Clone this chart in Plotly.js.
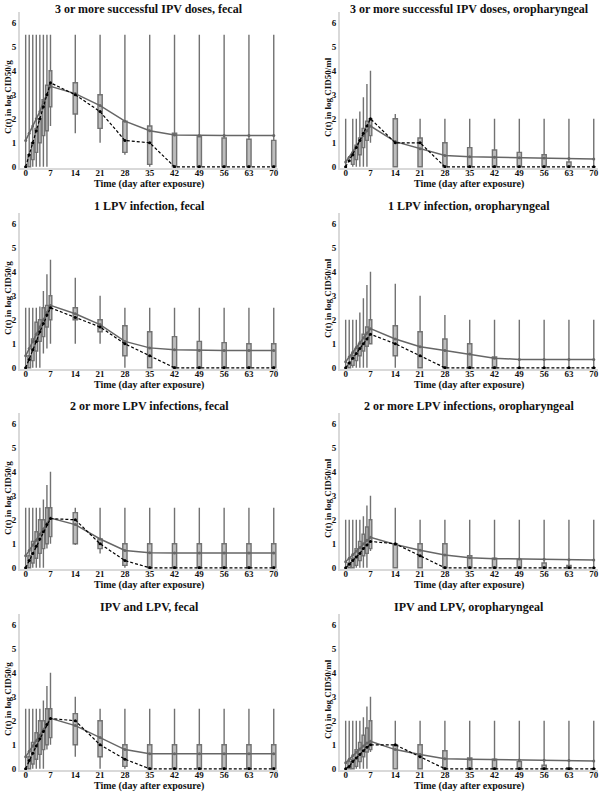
<!DOCTYPE html>
<html>
<head>
<meta charset="utf-8">
<script src="https://cdn.plot.ly/plotly-3.0.1.min.js"></script>
<style>
  body { margin: 0; background: #fff; }
  #chart { width: 601px; height: 795px; }
</style>
</head>
<body>
<div id="chart"></div>
<script>
// days after exposure (one box per day)
var days = [0, 1, 2, 3, 4, 5, 6, 7, 14, 21, 28, 35, 42, 49, 56, 63, 70];
var dayTicks = [0, 7, 14, 21, 28, 35, 42, 49, 56, 63, 70];

// 3 or more successful IPV doses, fecal
var ipvFecalMean   = [1.1, 1.4, 1.7, 2.0, 2.3, 2.7, 3.0, 3.35, 3.05, 2.55, 1.9, 1.5, 1.33, 1.3, 1.3, 1.3, 1.3];
var ipvFecalMedian = [0, 0.5, 1.0, 1.5, 2.0, 2.5, 3.0, 3.5, 3.0, 2.3, 1.1, 1.0, 0, 0, 0, 0, 0];
var ipvFecalQ1     = [0, 0, 0.3, 0.6, 1.0, 1.3, 1.5, 2.5, 2.2, 1.6, 0.6, 0.1, 0, 0, 0, 0, 0];
var ipvFecalQ3     = [0, 0.5, 1.0, 1.6, 2.0, 2.8, 3.4, 4.0, 3.5, 3.0, 1.9, 1.7, 1.4, 1.25, 1.2, 1.15, 1.1];
var ipvFecalLow    = [0, 0, 0, 0, 0, 0, 0, 1.7, 1.4, 1.0, 0.5, 0, 0, 0, 0, 0, 0];
var ipvFecalHigh   = [5.5, 5.5, 5.5, 5.5, 5.5, 5.5, 5.5, 5.5, 5.5, 5.5, 5.5, 5.5, 5.5, 5.5, 5.5, 5.5, 5.5];

// 3 or more successful IPV doses, oropharyngeal
var ipvOroMean   = [0.2, 0.4, 0.6, 0.85, 1.1, 1.3, 1.5, 1.7, 1.05, 0.75, 0.47, 0.42, 0.4, 0.38, 0.37, 0.35, 0.33];
var ipvOroMedian = [0, 0.25, 0.5, 0.8, 1.1, 1.4, 1.7, 2.0, 1.0, 1.0, 0, 0, 0, 0, 0, 0, 0];
var ipvOroQ1     = [0, 0, 0.1, 0.3, 0.5, 0.8, 1.1, 1.3, 0, 0, 0, 0, 0, 0, 0, 0, 0];
var ipvOroQ3     = [0, 0.2, 0.5, 0.9, 1.2, 1.6, 1.9, 2.0, 2.0, 1.2, 1.0, 0.8, 0.7, 0.6, 0.5, 0.2, 0];
var ipvOroLow    = [0, 0, 0, 0, 0, 0, 0, 1.0, 0, 0, 0, 0, 0, 0, 0, 0, 0];
var ipvOroHigh   = [2, 2, 2, 2, 2.3, 2.9, 3.45, 4.0, 2.2, 2, 2, 2, 2, 2, 2, 2, 2];

// 1 LPV infection, fecal
var lpv1FecalMean   = [0.5, 0.8, 1.1, 1.4, 1.7, 2.0, 2.3, 2.6, 2.25, 1.8, 1.1, 0.83, 0.75, 0.72, 0.72, 0.72, 0.72];
var lpv1FecalMedian = [0, 0.35, 0.75, 1.1, 1.5, 1.85, 2.2, 2.5, 2.1, 1.7, 1.0, 0.5, 0, 0, 0, 0, 0];
var lpv1FecalQ1     = [0, 0, 0.3, 0.7, 1.1, 1.3, 1.7, 2.0, 2.0, 1.5, 0.5, 0, 0, 0, 0, 0, 0];
var lpv1FecalQ3     = [0, 0.5, 1.2, 1.9, 2.0, 2.5, 2.6, 3.0, 2.5, 2.0, 1.75, 1.5, 1.3, 1.1, 1.05, 1.0, 1.0];
var lpv1FecalLow    = [0, 0, 0, 0, 0, 0.6, 0.8, 1.0, 1.0, 1.0, 0, 0, 0, 0, 0, 0, 0];
var lpv1FecalHigh   = [2.5, 2.5, 2.5, 2.5, 2.55, 3.2, 3.9, 4.5, 3.75, 3.0, 2.5, 2.5, 2.5, 2.5, 2.5, 2.5, 2.5];

// 1 LPV infection, oropharyngeal
var lpv1OroMean   = [0.25, 0.45, 0.65, 0.85, 1.05, 1.25, 1.45, 1.63, 1.2, 0.88, 0.72, 0.57, 0.4, 0.35, 0.35, 0.35, 0.35];
var lpv1OroMedian = [0, 0.2, 0.4, 0.6, 0.8, 1.0, 1.2, 1.4, 1.0, 0.5, 0, 0, 0, 0, 0, 0, 0];
var lpv1OroQ1     = [0, 0, 0.1, 0.3, 0.5, 0.7, 0.9, 1.0, 0.5, 0, 0, 0, 0, 0, 0, 0, 0];
var lpv1OroQ3     = [0, 0.2, 0.5, 0.8, 1.0, 1.4, 1.7, 2.0, 1.75, 1.5, 1.2, 1.0, 0.45, 0, 0, 0, 0];
var lpv1OroLow    = [0, 0, 0, 0, 0, 0, 0, 1.0, 0, 0, 0, 0, 0, 0, 0, 0, 0];
var lpv1OroHigh   = [2, 2, 2, 2, 2.3, 2.9, 3.45, 4.0, 3.5, 3.0, 2.2, 2, 2, 2, 2, 2, 2];

// 2 or more LPV infections, fecal
var lpv2FecalMean   = [0.5, 0.72, 0.95, 1.15, 1.4, 1.62, 1.85, 2.07, 1.8, 1.2, 0.72, 0.63, 0.62, 0.62, 0.62, 0.62, 0.62];
var lpv2FecalMedian = [0, 0.3, 0.6, 0.9, 1.2, 1.5, 1.8, 2.05, 2.0, 1.0, 0.3, 0, 0, 0, 0, 0, 0];
var lpv2FecalQ1     = [0, 0, 0.2, 0.4, 0.6, 0.8, 1.0, 1.3, 1.0, 0.8, 0.1, 0, 0, 0, 0, 0, 0];
var lpv2FecalQ3     = [0, 0.5, 1.1, 1.5, 2.0, 2.0, 2.5, 2.5, 2.3, 1.2, 1.0, 1.0, 1.0, 1.0, 1.0, 1.0, 1.0];
var lpv2FecalLow    = [0, 0, 0, 0, 0, 0, 0.8, 1.0, 0.95, 0.6, 0, 0, 0, 0, 0, 0, 0];
var lpv2FecalHigh   = [2.5, 2.5, 2.5, 2.5, 2.5, 2.85, 3.45, 4.0, 2.5, 2.5, 2.5, 2.5, 2.5, 2.5, 2.5, 2.5, 2.5];

// 2 or more LPV infections, oropharyngeal
var lpv2OroMean   = [0.25, 0.4, 0.55, 0.7, 0.85, 1.0, 1.15, 1.27, 0.97, 0.73, 0.53, 0.42, 0.38, 0.37, 0.36, 0.34, 0.33];
var lpv2OroMedian = [0, 0.15, 0.3, 0.45, 0.6, 0.8, 0.95, 1.1, 1.0, 0.5, 0, 0, 0, 0, 0, 0, 0];
var lpv2OroQ1     = [0, 0, 0, 0.1, 0.3, 0.5, 0.6, 0.8, 0, 0, 0, 0, 0, 0, 0, 0, 0];
var lpv2OroQ3     = [0, 0.2, 0.4, 0.8, 1.1, 1.4, 1.7, 2.0, 1.0, 1.0, 1.0, 0.5, 0.4, 0.35, 0.2, 0.1, 0];
var lpv2OroLow    = [0, 0, 0, 0, 0, 0, 0, 0.7, 0, 0, 0, 0, 0, 0, 0, 0, 0];
var lpv2OroHigh   = [2, 2, 2, 2, 2, 2.15, 2.6, 3.0, 2.5, 2, 2, 2, 2, 2, 2, 2, 2];

// IPV and LPV, fecal
var bothFecalMean   = [0.5, 0.73, 0.95, 1.17, 1.4, 1.62, 1.85, 2.1, 1.8, 1.3, 0.8, 0.63, 0.63, 0.63, 0.63, 0.63, 0.63];
var bothFecalMedian = [0, 0.35, 0.65, 0.95, 1.25, 1.55, 1.85, 2.1, 2.0, 1.0, 0.4, 0, 0, 0, 0, 0, 0];
var bothFecalQ1     = [0, 0, 0.2, 0.4, 0.6, 0.8, 1.0, 1.3, 1.0, 0.5, 0.1, 0, 0, 0, 0, 0, 0];
var bothFecalQ3     = [0, 0.5, 1.1, 1.5, 2.0, 2.0, 2.5, 2.5, 2.3, 2.0, 1.0, 1.0, 1.0, 1.0, 1.0, 1.0, 1.0];
var bothFecalLow    = [0, 0, 0, 0, 0, 0, 0.8, 1.0, 0.5, 0, 0, 0, 0, 0, 0, 0, 0];
var bothFecalHigh   = [2.5, 2.5, 2.5, 2.5, 2.5, 2.85, 3.45, 4.0, 3.0, 2.5, 2.5, 2.5, 2.5, 2.5, 2.5, 2.5, 2.5];

// IPV and LPV, oropharyngeal
var bothOroMean   = [0.25, 0.4, 0.55, 0.7, 0.82, 0.95, 1.07, 1.15, 0.8, 0.6, 0.42, 0.4, 0.38, 0.37, 0.36, 0.35, 0.33];
var bothOroMedian = [0, 0.1, 0.3, 0.45, 0.6, 0.75, 0.9, 1.0, 1.0, 0.5, 0, 0, 0, 0, 0, 0, 0];
var bothOroQ1     = [0, 0, 0, 0.1, 0.3, 0.5, 0.7, 0.8, 0, 0, 0, 0, 0, 0, 0, 0, 0];
var bothOroQ3     = [0, 0.3, 0.4, 0.8, 1.1, 1.4, 1.7, 2.0, 1.0, 1.0, 0.75, 0.45, 0.4, 0.3, 0.15, 0.05, 0];
var bothOroLow    = [0, 0, 0, 0, 0, 0, 0, 0.7, 0, 0, 0, 0, 0, 0, 0, 0, 0];
var bothOroHigh   = [2, 2, 2, 2, 2, 2.15, 2.6, 3.0, 2, 2, 2, 2, 2, 2, 2, 2, 2];

// panel list, row by row (left = fecal, right = oropharyngeal)
var panels = [
  {title: "3 or more successful IPV doses, fecal", unit: "g", mean: ipvFecalMean, median: ipvFecalMedian, q1: ipvFecalQ1, q3: ipvFecalQ3, low: ipvFecalLow, high: ipvFecalHigh},
  {title: "3 or more successful IPV doses, oropharyngeal", unit: "ml", mean: ipvOroMean, median: ipvOroMedian, q1: ipvOroQ1, q3: ipvOroQ3, low: ipvOroLow, high: ipvOroHigh},
  {title: "1 LPV infection, fecal", unit: "g", mean: lpv1FecalMean, median: lpv1FecalMedian, q1: lpv1FecalQ1, q3: lpv1FecalQ3, low: lpv1FecalLow, high: lpv1FecalHigh},
  {title: "1 LPV infection, oropharyngeal", unit: "ml", mean: lpv1OroMean, median: lpv1OroMedian, q1: lpv1OroQ1, q3: lpv1OroQ3, low: lpv1OroLow, high: lpv1OroHigh},
  {title: "2 or more LPV infections, fecal", unit: "g", mean: lpv2FecalMean, median: lpv2FecalMedian, q1: lpv2FecalQ1, q3: lpv2FecalQ3, low: lpv2FecalLow, high: lpv2FecalHigh},
  {title: "2 or more LPV infections, oropharyngeal", unit: "ml", mean: lpv2OroMean, median: lpv2OroMedian, q1: lpv2OroQ1, q3: lpv2OroQ3, low: lpv2OroLow, high: lpv2OroHigh},
  {title: "IPV and LPV, fecal", unit: "g", mean: bothFecalMean, median: bothFecalMedian, q1: bothFecalQ1, q3: bothFecalQ3, low: bothFecalLow, high: bothFecalHigh},
  {title: "IPV and LPV, oropharyngeal", unit: "ml", mean: bothOroMean, median: bothOroMedian, q1: bothOroQ1, q3: bothOroQ3, low: bothOroLow, high: bothOroHigh}
];

// page geometry in pixels
var W = 601, H = 795;
var colLeft = [20, 340];          // plot area left edge per column
var plotW = 258;
var rowTop = [12, 213, 413, 614]; // plot area top edge per row
var plotH = 156;

var font = "Liberation Serif, Times New Roman, serif";
var data = [];
var layout = {
  width: W, height: H,
  margin: {l: 0, r: 0, t: 0, b: 0},
  paper_bgcolor: "#fff", plot_bgcolor: "#fff",
  showlegend: false,
  font: {family: font, color: "#111"},
  annotations: []
};

panels.forEach(function (p, i) {
  var n = i + 1;
  var col = i % 2, row = Math.floor(i / 2);
  var xa = "x" + (n === 1 ? "" : n), ya = "y" + (n === 1 ? "" : n);
  var x0 = colLeft[col], y0 = rowTop[row];

  // early days get thinner boxes than the weekly ones
  [[0, 8, 0.75], [8, days.length, 1.2]].forEach(function (part) {
    var a = part[0], b = part[1];
    data.push({
      type: "box", xaxis: xa, yaxis: ya,
      x: days.slice(a, b),
      q1: p.q1.slice(a, b), median: p.median.slice(a, b), q3: p.q3.slice(a, b),
      lowerfence: p.low.slice(a, b), upperfence: p.high.slice(a, b),
      width: part[2], whiskerwidth: 0, boxpoints: false,
      fillcolor: "#bdbdbd", line: {color: "#727272", width: 1.4},
      hoverinfo: "skip"
    });
  });

  data.push({
    type: "scatter", mode: "lines+markers", xaxis: xa, yaxis: ya,
    x: days, y: p.mean,
    line: {color: "#666", width: 1.5},
    marker: {color: "#666", size: 3}
  });
  data.push({
    type: "scatter", mode: "lines+markers", xaxis: xa, yaxis: ya,
    x: days, y: p.median,
    line: {color: "#000", width: 1.2, dash: "3px,2px"},
    marker: {color: "#000", size: 3}
  });

  layout["xaxis" + (n === 1 ? "" : n)] = {
    domain: [x0 / W, (x0 + plotW) / W], anchor: ya,
    range: [-1.6, 71.2], tickvals: dayTicks,
    showgrid: false, zeroline: false, showline: true,
    linecolor: "#d9d9d9", linewidth: 2, ticks: "",
    ticklabelstandoff: -5,
    tickfont: {family: font, size: 9, color: "#111", weight: "bold"}
  };
  layout["yaxis" + (n === 1 ? "" : n)] = {
    domain: [1 - (y0 + plotH) / H, 1 - y0 / H], anchor: xa,
    range: [-0.05, 6.45], tickvals: [0, 1, 2, 3, 4, 5, 6],
    showgrid: false, zeroline: false, showline: true,
    linecolor: "#d9d9d9", linewidth: 2, ticks: "",
    tickfont: {family: font, size: 9, color: "#111", weight: "bold"}
  };

  // panel title (first row hangs from the top edge), x title, y title
  layout.annotations.push({
    text: "<b>" + p.title + "</b>", xref: "paper", yref: "paper",
    x: (x0 + plotW / 2) / W,
    y: row === 0 ? 1 : 1 - (y0 - 7) / H,
    xanchor: "center", yanchor: row === 0 ? "top" : "middle", showarrow: false,
    font: {family: font, size: 12, color: "#111"}
  });
  layout.annotations.push({
    text: "<b>Time (day after exposure)</b>", xref: "paper", yref: "paper",
    x: (x0 + plotW / 2) / W, y: 1 - (y0 + plotH + 16) / H,
    xanchor: "center", yanchor: "middle", showarrow: false,
    font: {family: font, size: 10, color: "#111"}
  });
  layout.annotations.push({
    text: "<b>C(t) in log CID50/" + p.unit + "</b>", xref: "paper", yref: "paper",
    x: (x0 - 12) / W, y: 1 - (y0 + 85) / H, textangle: -90,
    xanchor: "center", yanchor: "middle", showarrow: false,
    font: {family: font, size: 9, color: "#111"}
  });
});

Plotly.newPlot("chart", data, layout, {displayModeBar: false, staticPlot: true});
</script>
</body>
</html>
